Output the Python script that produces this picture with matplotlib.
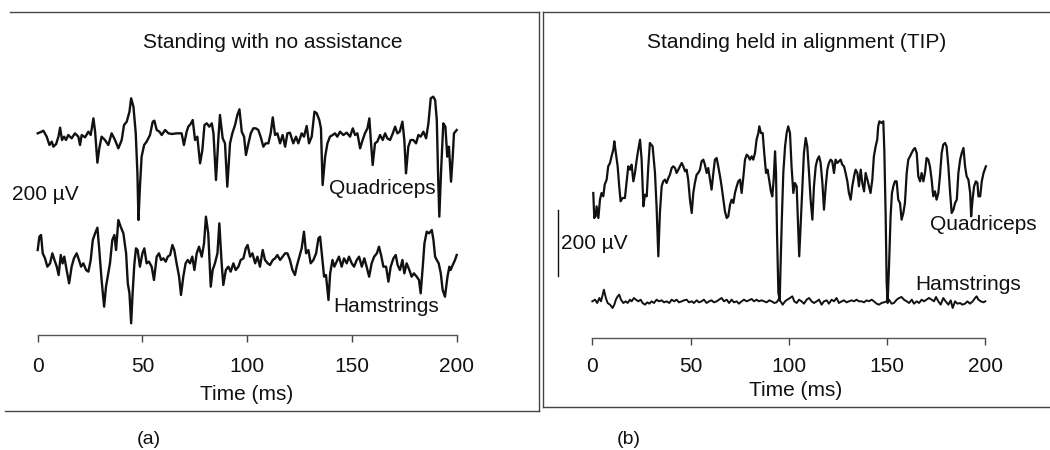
import matplotlib
matplotlib.use("Agg")
import matplotlib.pyplot as plt
from matplotlib.lines import Line2D

plt.rcParams['font.family'] = ['Liberation Sans', 'DejaVu Sans']

# ---- data: time (ms) and amplitude (uV, relative to each trace's baseline)
# (a) standing with no assistance
quad_a_t = [0.0, 1.9, 2.7, 4.3, 5.6, 6.7, 7.5, 8.8, 9.9, 10.7, 11.6, 12.6, 13.5, 14.6, 16.2, 17.8,
            19.4, 20.2, 21.0, 22.6, 24.2, 25.3, 26.6, 27.4, 28.5, 29.4, 30.5, 32.1, 33.7, 35.3, 36.9,
            38.5, 40.1, 41.2, 42.5, 43.8, 44.6, 45.7, 46.8, 47.6, 48.1, 48.8, 49.6, 50.8, 52.0, 53.6,
            54.9, 55.7, 56.8, 58.1, 59.2, 60.8, 62.4, 64.0, 66.3, 68.7, 69.8, 71.1, 71.9, 73.0, 74.0,
            75.1, 76.2, 77.5, 78.6, 79.6, 80.7, 81.9, 83.1, 83.9, 85.1, 86.2, 87.0, 88.3, 89.4, 90.5,
            91.8, 92.9, 94.2, 95.3, 96.3, 97.4, 98.5, 99.4, 100.6, 101.7, 102.9, 104.1, 105.3, 106.4,
            107.7, 108.8, 110.1, 111.2, 112.2, 113.3, 114.4, 115.7, 116.9, 118.1, 119.2, 120.4, 122.0,
            123.3, 124.4, 126.0, 127.1, 128.4, 129.5, 130.8, 132.1, 133.2, 134.4, 135.2, 136.0, 137.2,
            138.3, 139.5, 140.8, 141.9, 143.0, 144.3, 145.9, 147.5, 149.1, 150.4, 151.5, 152.6, 153.9,
            155.1, 156.2, 157.4, 158.3, 159.0, 159.9, 161.0, 162.1, 163.4, 164.7, 165.8, 166.9, 168.2,
            169.5, 170.6, 171.7, 172.8, 174.1, 175.0, 175.8, 176.9, 178.0, 179.3, 180.6, 181.7, 182.8,
            184.1, 185.4, 186.5, 187.6, 188.8, 189.7, 190.5, 191.1, 191.7, 192.5, 193.6, 194.6, 195.5,
            196.3, 197.3, 198.1, 198.7, 200.0]
quad_a_v = [10, 15, 18, 0, -25, -15, -30, -22, 0, 27, -10, 0, -10, 5, -5, 10,
            0, -25, 5, -2, 15, 5, 55, 15, -78, -35, 0, -10, -25, 10, -10,
            -35, -10, 35, 45, 75, 115, 90, 10, -110, -250, -150, -60, -25, -15, 5,
            45, 48, 20, 15, 5, 20, 10, 8, 10, 10, -25, 15, 30, 38, 50,
            -10, 0, -80, -40, 35, 40, 30, 40, 10, -130, -10, 65, -5, -20, -150,
            -20, 10, 35, 65, 82, 15, 0, -55, -20, 10, 25, 25, 20, 0,
            -30, -20, -20, 10, 58, 5, 10, -20, 5, -30, 10, 12, -20,
            0, -20, 10, 0, 32, -20, 0, 75, 70, 50, 25, -145, -60,
            -20, 0, 5, 10, 0, 15, 5, 12, 0, 25, 5, 10, -35,
            -10, 10, 25, 55, -10, -85, -20, -15, 5, -10, 10, -5, -10,
            10, 30, 10, 15, 45, -10, -110, -30, -10, -10, -20, 5, 0,
            15, -5, 40, 115, 120, 110, 50, -110, -240, -110, 40, 30, -60,
            -30, -135, -60, 10, 20]

ham_a_t = [0.0, 0.8, 1.6, 2.4, 3.5, 4.6, 5.9, 7.0, 8.0, 9.1, 10.0, 11.0, 11.9, 12.7, 13.8, 15.0,
           16.2, 17.3, 18.6, 19.7, 20.7, 21.8, 23.1, 24.2, 25.3, 26.3, 27.4, 28.5, 29.4, 30.5, 31.7,
           32.6, 33.7, 34.5, 35.6, 36.6, 37.4, 38.5, 39.6, 40.9, 42.2, 43.0, 43.8, 44.6, 45.3, 46.1,
           46.9, 47.7, 48.8, 50.0, 50.9, 52.0, 53.1, 54.4, 55.5, 56.8, 57.9, 58.9, 60.0, 61.1, 62.1,
           63.2, 64.3, 65.2, 66.3, 67.5, 68.4, 69.5, 70.6, 71.6, 72.7, 73.8, 74.8, 75.9, 77.0, 78.3,
           79.4, 80.3, 81.4, 82.6, 83.5, 84.6, 85.8, 86.7, 87.8, 88.6, 89.8, 91.0, 92.1, 93.4, 94.5,
           95.8, 96.9, 98.2, 99.3, 100.2, 101.4, 102.5, 103.8, 104.9, 106.1, 107.4, 108.5, 109.8,
           110.9, 112.2, 113.3, 114.4, 115.7, 116.9, 118.1, 119.2, 120.4, 121.6, 122.8, 123.6, 124.9,
           126.0, 127.1, 128.1, 129.2, 130.3, 131.6, 132.9, 134.0, 134.8, 135.6, 136.7, 137.6, 138.8,
           139.6, 140.7, 141.6, 142.7, 143.8, 145.1, 146.2, 147.5, 148.6, 149.9, 151.0, 152.3, 153.4,
           154.7, 155.9, 157.0, 158.2, 159.4, 160.6, 161.9, 162.9, 163.9, 165.0, 166.3, 167.4, 168.5,
           169.8, 170.9, 171.8, 172.9, 174.1, 175.0, 176.1, 177.4, 178.5, 179.6, 180.9, 182.0, 182.8,
           183.8, 184.6, 185.7, 186.8, 188.1, 188.9, 189.7, 190.5, 191.4, 192.4, 193.3, 194.4, 195.6,
           196.5, 197.1, 198.1, 199.2, 200.0]
ham_a_v = [40, 80, 85, 30, 15, -10, 0, 30, 10, -10, -35, 25, 0, 20, -20, -60,
           -10, 15, 30, 10, -10, 0, -20, -25, 10, 70, 90, 107, 40, -50, -130,
           -70, -30, 0, 70, 85, 40, 130, 110, 90, 30, -60, -90, -180, -90, -5,
           45, 40, -10, 30, 45, 0, 5, -10, -50, 20, 30, 10, 15, 5, 20,
           25, 55, 40, 0, -40, -95, -40, 0, 10, 0, 20, -20, 30, 50, 20,
           60, 140, 90, -70, -20, 0, 30, 120, 0, -65, -20, -10, -25, 0, -20,
           -10, 10, 15, 45, 55, 20, 30, 0, 20, -10, 40, 10, 0,
           -5, 10, 15, 25, 10, 20, 30, 30, 10, -20, -35, -10, 20,
           45, 95, 30, 40, 0, 10, 30, 75, 80, 30, -40, -35, -110,
           -30, 10, -10, 5, 20, -10, 15, 0, 20, 0, -10, 10, 20,
           -10, 15, -10, -40, 0, 20, 30, 50, 25, -10, -10, -55, -10,
           15, 25, -5, -20, 10, -30, 0, -20, -40, -30, -40, -50, -90,
           -10, 60, 95, 90, 100, 70, 20, 10, 0, -30, -80, -100, -40,
           -10, -20, -5, 10, 25]

# (b) standing held in alignment (TIP)
quad_b_t = [0.5, 1.0, 1.7, 2.2, 3.1, 3.9, 4.7, 5.6, 6.3, 7.3, 8.1, 9.0, 9.8, 10.7, 11.2, 12.0,
            12.9, 13.7, 14.4, 15.4, 16.6, 17.5, 18.3, 19.2, 20.0, 20.9, 21.7, 22.6, 23.4, 24.3, 25.1,
            26.0, 26.8, 27.7, 28.5, 29.3, 30.7, 31.9, 32.7, 33.6, 34.4, 35.3, 36.1, 37.0, 37.8, 38.7,
            39.5, 40.4, 41.2, 42.1, 42.9, 43.8, 44.6, 45.5, 46.3, 47.2, 48.0, 48.8, 49.7, 50.6, 51.4,
            52.2, 53.1, 53.9, 54.8, 55.6, 56.5, 57.3, 58.2, 59.0, 59.9, 60.7, 61.6, 62.4, 63.3, 64.1,
            65.0, 65.8, 66.7, 67.5, 68.4, 69.2, 70.1, 70.9, 71.8, 72.6, 73.5, 74.3, 75.2, 76.0, 76.9,
            77.7, 78.6, 79.4, 80.2, 81.1, 81.9, 82.8, 83.6, 84.5, 85.0, 85.8, 86.7, 87.5, 88.4, 89.2,
            90.1, 90.9, 91.6, 92.3, 93.0, 93.5, 94.0, 94.7, 95.4, 95.8, 96.5, 97.2, 98.1, 98.9, 99.7,
            100.6, 101.4, 102.3, 103.1, 104.0, 104.9, 105.3, 106.0, 106.9, 107.7, 108.6, 109.4, 110.3,
            111.1, 112.0, 112.8, 113.7, 114.5, 115.4, 116.2, 117.1, 117.9, 118.8, 119.6, 120.4, 121.3,
            122.1, 123.0, 123.8, 124.7, 125.5, 126.4, 127.2, 128.1, 128.9, 129.8, 130.6, 131.5, 132.3,
            133.2, 134.0, 134.9, 135.7, 136.6, 137.4, 138.3, 139.1, 140.0, 140.8, 141.6, 142.5, 143.3,
            144.2, 145.0, 145.5, 146.1, 147.2, 148.1, 148.6, 149.3, 149.8, 150.3, 151.0, 151.8, 152.5,
            153.2, 154.0, 154.9, 155.7, 156.6, 157.4, 158.3, 159.1, 160.0, 160.8, 161.7, 162.5, 163.4,
            164.2, 165.1, 165.9, 166.8, 167.6, 168.5, 169.3, 170.1, 171.0, 171.8, 172.7, 173.5, 174.4,
            175.2, 176.1, 176.9, 177.8, 178.6, 179.5, 180.3, 181.2, 182.1, 182.9, 183.8, 184.6, 185.5,
            186.3, 187.2, 188.0, 188.9, 189.7, 190.5, 191.4, 192.3, 192.8, 193.5, 194.3, 195.2, 196.0,
            196.5, 197.4, 198.2, 199.1, 200.3]
quad_b_v = [-40, -115, -110, -80, -115, -60, -40, -50, -15, 0, 40, 50, 70, 90, 115, 80,
            40, -20, -65, -55, -55, -5, 40, 30, 45, -5, 20, 60, 90, 120, 60,
            -80, -45, -50, 40, 110, 100, 20, -80, -230, -100, -20, -5, 0, -10, 5,
            15, 35, 40, 35, 20, 30, 40, 50, 40, 25, 30, 0, -60, -100, -40,
            -10, 15, 20, 30, 55, 60, 45, 20, 35, 0, -30, 20, 60, 65, 40,
            10, -20, -60, -95, -115, -110, -75, -60, -70, -40, -20, -5, 0, -40, 10,
            60, 75, 70, 60, 70, 60, 80, 120, 140, 160, 140, 140, 80, 20, 30,
            -5, -35, -50, 0, 85, 20, -160, -340, -360, -260, -110, 20, 100, 140, 160,
            140, 40, -40, -10, -20, -160, -230, -140, -20, 80, 125, 100, 20,
            -60, -120, -20, 40, 60, 70, 50, -10, -90, -20, 30, 50, 60,
            55, 20, 60, 50, 55, 60, 45, 40, 20, -5, -40, -60, -20,
            10, 30, 20, -20, 30, -10, -35, 20, 0, -20, -40, 0, 70,
            100, 120, 160, 175, 170, 175, 90, -110, -310, -370, -260, -110, -40,
            -20, -5, -5, -60, -70, -120, -100, -70, 20, 60, 70, 80, 90,
            95, 80, 10, -5, 20, -5, 20, 65, 60, 40, 0, -50, -35,
            -60, -40, 10, 80, 105, 110, 100, 40, -40, -100, -90, -70, -60,
            20, 60, 80, 95, 40, 10, 0, -40, -110, -60, -20, -5, -10,
            -50, -50, -5, 20, 40]

ham_b_t = [0.0, 1.4, 2.5, 3.6, 4.4, 5.3, 5.9, 6.9, 7.8, 9.0, 10.3, 11.2, 12.0, 12.9, 13.7, 14.6,
           15.8, 17.0, 18.0, 19.2, 20.0, 21.2, 22.2, 23.4, 24.6, 25.6, 26.8, 28.0, 29.0, 30.2, 31.4,
           32.7, 33.9, 35.3, 36.5, 37.8, 39.2, 40.4, 41.7, 42.9, 44.1, 45.5, 46.7, 48.0, 49.2, 50.6,
           51.7, 53.1, 54.3, 55.6, 56.8, 58.2, 59.4, 60.7, 61.9, 63.3, 64.5, 65.8, 67.0, 68.4, 69.6,
           70.9, 72.1, 73.5, 74.6, 76.0, 77.2, 78.5, 79.7, 81.1, 82.3, 83.6, 84.8, 86.2, 87.4, 88.7,
           90.1, 91.3, 92.6, 93.8, 94.7, 95.8, 96.9, 98.1, 99.2, 100.6, 101.8, 102.8, 104.0, 105.2,
           106.5, 107.7, 109.1, 110.3, 111.6, 112.8, 114.2, 115.4, 116.7, 117.9, 119.3, 120.4, 121.8,
           123.0, 124.3, 125.5, 126.9, 128.1, 129.4, 130.6, 132.0, 133.2, 134.5, 135.7, 137.1, 138.3,
           139.6, 140.8, 142.2, 143.3, 144.7, 145.9, 147.2, 148.4, 149.8, 151.0, 152.3, 153.5, 154.9,
           156.1, 157.4, 158.6, 160.0, 161.2, 162.6, 163.7, 165.1, 166.3, 167.6, 168.8, 170.1, 171.3,
           172.7, 173.9, 174.9, 176.1, 177.3, 178.6, 179.8, 181.2, 182.4, 183.4, 184.6, 185.8, 187.2,
           188.3, 189.7, 190.9, 192.2, 193.6, 194.8, 195.6, 196.5, 197.7, 199.1, 200.0]
ham_b_v = [0, 5, -5, 10, 0, 20, 35, 10, -5, -10, -20, -10, 5, 15, 20, 5,
           -5, 0, -5, 5, 0, 10, 5, 0, 5, -5, -10, -3, -7, 0, -5,
           5, 0, 3, -3, 0, -5, 5, 0, 5, -3, 0, 3, 5, -3, 0,
           -5, 3, -3, 0, 5, -5, 0, 3, -3, 0, 5, 10, 0, 5, -5,
           5, -3, 0, -7, 0, 5, 0, 3, 7, 0, 5, 0, 3, 0, -3,
           3, 0, -5, -3, 5, 0, -10, 0, 5, 10, 15, 0, -5, 5,
           0, -7, 5, 10, 0, -5, 0, 5, -10, 0, 3, -7, 5,
           0, 10, -5, 0, 3, -3, 0, 3, 0, 5, 0, 0, -3,
           3, 0, 5, 0, -7, -10, -5, -3, 0, 5, -7, -5, 5,
           10, 13, 5, 0, -5, 5, -7, 0, -5, 5, 0, 5, 10,
           5, 0, 13, 0, -10, 10, 0, -10, 3, -20, 0, -7, -5,
           -10, -7, 0, -7, 0, 10, 15, 5, 0, -3, 0]

xticks = [0, 50, 100, 150, 200]
titles = ["Standing with no assistance", "Standing held in alignment (TIP)"]

W, H = 1050, 450
fig = plt.figure(figsize=(W / 100, H / 100), dpi=100)
ink = '#111111'


def add_px_axes(left, top, right, bottom):
    return fig.add_axes([left / W, 1 - bottom / H, (right - left) / W, (bottom - top) / H])


def ftext(x, y, s, **kw):
    kw.setdefault('fontsize', 15)
    kw.setdefault('color', ink)
    fig.text(x / W, 1 - y / H, s, **kw)


def fline(x1, y1, x2, y2):
    fig.add_artist(Line2D([x1 / W, x2 / W], [1 - y1 / H, 1 - y2 / H],
                          transform=fig.transFigure, color='#444444', lw=1.0))


def style_axes(ax, ytop, pad):
    ax.set_xlim(0, 200)
    ax.set_ylim(0, ytop)
    ax.patch.set_visible(False)
    for s in ['top', 'right', 'left']:
        ax.spines[s].set_visible(False)
    ax.spines['bottom'].set_color('#555555')
    ax.spines['bottom'].set_linewidth(1.0)
    ax.set_yticks([])
    ax.set_xticks(xticks)
    ax.set_xticklabels([str(t) for t in xticks])
    ax.tick_params(axis='x', direction='out', length=5, width=1.0, color='#444444',
                   labelsize=15, labelcolor=ink, pad=pad)


# panel (a): 1 data unit = 1/3 px vertically
ax1 = add_px_axes(37.7, 70, 456.7, 335)
style_axes(ax1, 795, 11)
ax1.plot(quad_a_t, [595 + v for v in quad_a_v], color=ink, lw=1.7, clip_on=False)
ax1.plot(ham_a_t, [215 + v for v in ham_a_v], color=ink, lw=1.7, clip_on=False)

# panel (b)
ax2 = add_px_axes(592.3, 70, 985.3, 338)
style_axes(ax2, 804, 9)
ax2.plot(quad_b_t, [475 + v for v in quad_b_v], color=ink, lw=1.6, clip_on=False)
ax2.plot(ham_b_t, [110 + v for v in ham_b_v], color=ink, lw=1.4, clip_on=False)
# 200 uV calibration bar
ax2.plot([-17.5, -17.5], [185, 385], color=ink, lw=1.0, clip_on=False)

# texts
ftext(273, 43, titles[0], ha='center', va='center')
ftext(797, 43, titles[1], ha='center', va='center')
ftext(247, 395, "Time (ms)", ha='center', va='center')
ftext(796, 391, "Time (ms)", ha='center', va='center')
ftext(12, 195, "200 µV", ha='left', va='center')
ftext(561, 243, "200 µV", ha='left', va='center')
ftext(329, 189, "Quadriceps", ha='left', va='center')
ftext(333, 307, "Hamstrings", ha='left', va='center')
ftext(930, 225, "Quadriceps", ha='left', va='center')
ftext(915, 284, "Hamstrings", ha='left', va='center')
ftext(149, 440, "(a)", ha='center', va='center', fontsize=14)
ftext(629, 440, "(b)", ha='center', va='center', fontsize=14)

# panel frames
fline(10, 12, 539, 12)
fline(5, 411, 539, 411)
fline(539, 12, 539, 411)
fline(543, 12, 543, 407)
fline(543, 12, 1050, 12)
fline(543, 407, 1050, 407)

fig.savefig("out.png", dpi=100)
